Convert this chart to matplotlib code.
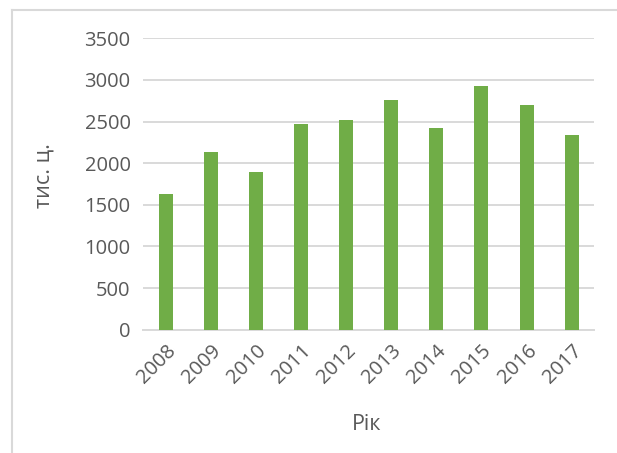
import matplotlib
matplotlib.use("Agg")
from matplotlib import pyplot as plt
from matplotlib.lines import Line2D

years = ["2008", "2009", "2010", "2011", "2012", "2013", "2014", "2015", "2016", "2017"]
values = [1625, 2130, 1894, 2474, 2518, 2754, 2418, 2922, 2694, 2334]
yticks = [0, 500, 1000, 1500, 2000, 2500, 3000, 3500]

plt.rcParams["font.family"] = ["Open Sans", "DejaVu Sans"]
txt = "#595959"
grid = "#D9D9D9"

fig = plt.figure(figsize=(6.17, 4.53), dpi=100)
ax = fig.add_axes([0.232, 0.272, 0.731, 0.6435])

ax.bar(range(len(years)), values, width=0.31, color="#70AD47", zorder=3)
ax.set_xlim(-0.5, len(years) - 0.5)
ax.set_ylim(0, 3500)
ax.set_yticks(yticks)
ax.set_yticklabels([str(v) for v in yticks], fontsize=14.5, color=txt)
ax.set_xticks(range(len(years)))
ax.set_xticklabels(years, rotation=45, ha="right", va="top", rotation_mode="anchor",
                   fontsize=14.5, color=txt)
ax.tick_params(length=0, pad=9)
ax.tick_params(axis="x", pad=8)
ax.yaxis.grid(True, color=grid, linewidth=1.4, zorder=0)
for s in ["top", "right", "left"]:
    ax.spines[s].set_visible(False)
ax.spines["bottom"].set_color(grid)
ax.spines["bottom"].set_linewidth(1.4)

fig.text(0.595, 0.062, "Рік", ha="center", va="center", fontsize=15.5, color=txt)
fig.text(0.072, 0.612, "тис. ц.", ha="center", va="center", rotation=90, fontsize=15.5, color=txt)

# chart frame
fig.add_artist(Line2D([12 / 617, 12 / 617], [0, 1 - 10 / 453], color=grid, linewidth=1.5))
fig.add_artist(Line2D([12 / 617, 1], [1 - 10 / 453, 1 - 10 / 453], color=grid, linewidth=1.5))

fig.savefig("out.png", dpi=100)
